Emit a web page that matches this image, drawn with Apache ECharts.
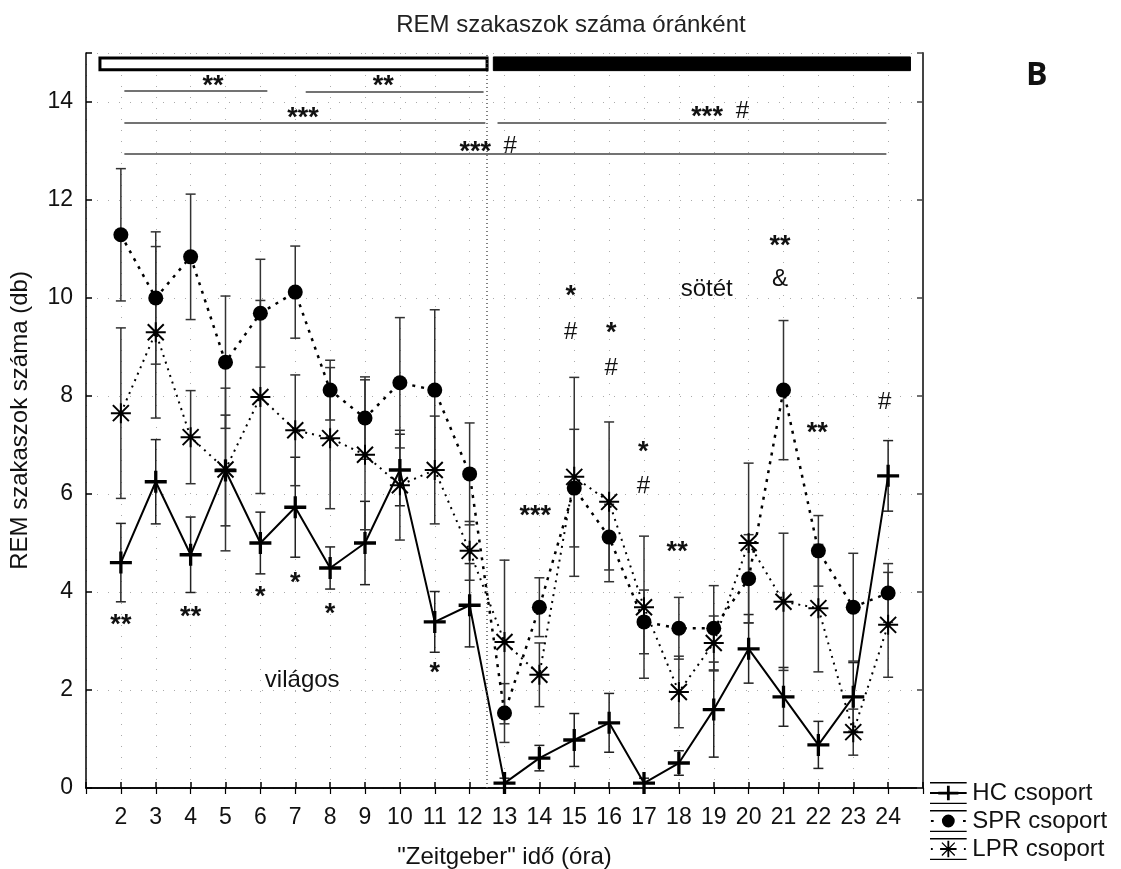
<!DOCTYPE html>
<html>
<head>
<meta charset="utf-8">
<script src="https://cdn.jsdelivr.net/npm/echarts@6/dist/echarts.min.js"></script>
<style>
html,body{margin:0;padding:0;background:#fff;}
#chart{width:1121px;height:869px;}
</style>
</head>
<body>
<div id="chart"></div>
<script>
// ---- Data ----
const hours = [2,3,4,5,6,7,8,9,10,11,12,13,14,15,16,17,18,19,20,21,22,23,24];
const hcMean  = [4.60,6.25,4.76,6.48,5.00,5.73,4.49,5.00,6.49,3.39,3.73,0.10,0.61,0.98,1.33,0.10,0.51,1.60,2.84,1.86,0.88,1.86,6.37];
const hcSem   = [0.80,0.86,0.77,1.13,0.63,1.02,0.43,0.85,0.73,0.62,0.85,0.10,0.26,0.54,0.60,0.10,0.25,0.97,0.70,0.60,0.48,0.70,0.72];
const sprMean = [11.29,10.00,10.84,8.69,9.69,10.12,8.12,7.55,8.27,8.12,6.41,1.53,3.69,6.12,5.12,3.39,3.26,3.26,4.27,8.12,4.84,3.69,3.98];
const sprSem  = [1.35,1.35,1.28,1.35,1.10,0.94,0.61,0.84,1.33,1.64,1.04,0.60,0.60,1.20,0.67,0.65,0.63,0.87,0.90,1.42,0.72,1.10,0.60];
const lprMean = [7.65,9.30,7.16,6.50,7.98,7.30,7.14,6.80,6.18,6.49,4.84,2.98,2.31,6.35,5.84,3.69,1.96,2.96,5.00,3.80,3.67,1.14,3.33];
const lprSem  = [1.74,1.75,0.95,1.66,1.97,1.13,1.44,1.53,1.12,1.10,0.60,1.67,0.65,2.03,1.63,1.45,0.73,0.55,1.63,1.40,1.30,0.47,1.07];
const yTicks = [0,2,4,6,8,10,12,14];
const seriesNames = ['HC csoport','SPR csoport','LPR csoport'];

// significance brackets [xStart, xEnd, y]
const brackets = [[2.1,6.2,14.22],[7.3,12.4,14.2],[2.1,12.45,13.57],[12.8,23.95,13.57],[2.1,23.95,12.94]];
// annotation texts [x, y, text]
const starNotes = [
  [4.64,14.43,'**'],[9.52,14.43,'**'],[7.22,13.78,'***'],[12.16,13.1,'***'],[18.81,13.8,'***'],
  [2,3.43,'**'],[4,3.6,'**'],[6,4.0,'*'],[7,4.29,'*'],[8,3.67,'*'],[11,2.45,'*'],
  [14.9,10.16,'*'],[16.06,9.39,'*'],[16.98,6.96,'*'],[13.88,5.67,'***'],[17.95,4.92,'**'],
  [20.9,11.18,'**'],[21.97,7.35,'**']
];
const otherNotes = [
  [13.16,13.1,'#'],[19.82,13.8,'#'],[14.9,9.3,'#'],[16.06,8.57,'#'],[16.98,6.16,'#'],[23.9,7.86,'#'],
  [20.9,10.37,'&'],[7.2,2.2,'világos'],[18.8,10.18,'sötét']
];
// light / dark phase bars [xStart, xEnd, yLow, yHigh]
const lightBar = [1.4,12.5,14.66,14.9];
const darkBar = [12.68,24.64,14.64,14.92];
const phaseBoundary = 12.5;

const FONT = '"Liberation Sans", Arial, sans-serif';

function pairs(mean){ return hours.map((h,i)=>[h,mean[i]]); }
function errs(mean,sem){ return hours.map((h,i)=>[h,mean[i]-sem[i],mean[i]+sem[i]]); }

const plusPath = 'path://M0,8.5H20V11.5H0Z M8.5,0H11.5V20H8.5Z';
const starPath = 'path://M9,0H11V20H9Z M0,9H20V11H0Z M2.7,1.3L18.7,17.3L17.3,18.7L1.3,2.7Z M17.3,1.3L18.7,2.7L2.7,18.7L1.3,17.3Z';

const legHC = 'path://M0,0H40V1.5H0Z M0,22.5H40V24H0Z M0,11H40V13H0Z M18.5,4H21.5V20H18.5Z M9,10.5H31V13.5H9Z';
const legSPR = 'path://M0,0H40V1.5H0Z M0,22.5H40V24H0Z M1,11H4V13H1Z M36,11H39V13H36Z M20,5A7,7 0 1,1 19.99,5Z';
const legLPR = 'path://M0,0H40V1.5H0Z M0,22.5H40V24H0Z M1,11H3V13H1Z M37,11H39V13H37Z M19,3H21V21H19Z M11,11H29V13H11Z M13.5,4.5L27.5,18.5L26.5,19.5L12.5,5.5Z M26.5,4.5L27.5,5.5L13.5,19.5L12.5,18.5Z';

function errorSeries(name, data, color){
  return {
    type:'custom', name: name+'_err', data: data, z: 2, silent:true,
    renderItem: function(params, api){
      const x = api.value(0);
      const lo = api.coord([x, api.value(1)]);
      const hi = api.coord([x, api.value(2)]);
      const w = 5;
      const st = {stroke: color, lineWidth: 1.5};
      return {type:'group', children:[
        {type:'line', shape:{x1:lo[0],y1:lo[1],x2:hi[0],y2:hi[1]}, style:st},
        {type:'line', shape:{x1:lo[0]-w,y1:lo[1],x2:lo[0]+w,y2:lo[1]}, style:st},
        {type:'line', shape:{x1:hi[0]-w,y1:hi[1],x2:hi[0]+w,y2:hi[1]}, style:st}
      ]};
    }
  };
}

function textSeries(name, data, font, dy){
  return {
    type:'custom', name:name, data:data, z:6, silent:true,
    renderItem: function(params, api){
      const p = api.coord([api.value(0), api.value(1)]);
      return {type:'text', x:p[0], y:p[1]+dy, style:{
        text: data[params.dataIndex][2], fill:'#111', font: font,
        align:'center', verticalAlign:'middle'}};
    }
  };
}

const chart = echarts.init(document.getElementById('chart'), null, {renderer:'canvas'});
const option = {
  backgroundColor:'#fff',
  animation:false,
  title:{text:'REM szakaszok száma óránként', left:566, top:8, textAlign:'center',
    textStyle:{fontFamily:FONT, fontSize:24, fontWeight:'normal', color:'#222'}},
  graphic:[{type:'text', left:1026, top:60, style:{text:'B', font:'bold 32px "Open Sans", sans-serif', fill:'#111'}}],
  legend:{
    orient:'vertical', left:930, top:781, height:86, itemWidth:38, itemGap:4, itemHeight:22, padding:0,
    textStyle:{fontFamily:FONT, fontSize:24, lineHeight:24, color:'#111', padding:[0,0,0,0]},
    data:[
      {name:seriesNames[0], icon:legHC, itemStyle:{color:'#000'}},
      {name:seriesNames[1], icon:legSPR, itemStyle:{color:'#000'}},
      {name:seriesNames[2], icon:legLPR, itemStyle:{color:'#000'}}
    ]
  },
  grid:{left:86, right:198, top:53, bottom:81, show:false, outerBoundsMode:'none'},
  xAxis:[{
    type:'value', min:1, max:25, interval:1, position:'bottom',
    name:'"Zeitgeber" idő (óra)', nameLocation:'middle', nameGap:57,
    nameTextStyle:{fontFamily:FONT, fontSize:24, color:'#111'},
    axisLine:{lineStyle:{color:'#000', width:1.5}},
    axisTick:{inside:true, length:6, lineStyle:{color:'#000', width:1.5}},
    axisLabel:{fontFamily:FONT, fontSize:23, color:'#111', margin:18,
      formatter:v=> (v>=2 && v<=24) ? String(v) : ''},
    splitLine:{show:true, lineStyle:{color:'#aaa', type:[1,10], width:1}}
  },{
    type:'value', min:1, max:25, interval:1, position:'top',
    axisLine:{lineStyle:{color:'#000', width:1.5}},
    axisTick:{inside:true, length:6, lineStyle:{color:'#000', width:1.2}},
    axisLabel:{show:false}, splitLine:{show:false}
  }],
  yAxis:[{
    type:'value', min:0, max:15, interval:2, position:'left',
    name:'REM szakaszok száma (db)', nameLocation:'middle', nameGap:54,
    nameTextStyle:{fontFamily:FONT, fontSize:24, color:'#111'},
    axisLine:{show:true, lineStyle:{color:'#000', width:1.5}},
    axisTick:{inside:true, length:6, lineStyle:{color:'#000', width:1.5}},
    axisLabel:{fontFamily:FONT, fontSize:23, color:'#111', margin:13,
      formatter:v=> yTicks.indexOf(v)>=0 ? String(v) : ''},
    splitLine:{show:true, lineStyle:{color:'#aaa', type:[1,10], width:1}}
  },{
    type:'value', min:0, max:15, interval:2, position:'right',
    axisLine:{show:true, lineStyle:{color:'#444', width:2}},
    axisTick:{inside:true, length:6, lineStyle:{color:'#444', width:1.5}},
    axisLabel:{show:false}, splitLine:{show:false}
  }],
  series:[
    errorSeries('HC', errs(hcMean,hcSem), '#222'),
    errorSeries('SPR', errs(sprMean,sprSem), '#333'),
    errorSeries('LPR', errs(lprMean,lprSem), '#333'),
    {
      type:'line', name:seriesNames[0], data:pairs(hcMean), z:4,
      symbol:plusPath, symbolSize:[22,22], showAllSymbol:true,
      lineStyle:{color:'#000', width:2}, itemStyle:{color:'#000'},
      markLine:{silent:true, symbol:'none', label:{show:false},
        lineStyle:{color:'#444', width:1.5, type:'solid'},
        data: brackets.map(b=>[{coord:[b[0],b[2]]},{coord:[b[1],b[2]]}])
          .concat([[{coord:[phaseBoundary,0]},{coord:[phaseBoundary,15], lineStyle:{type:[1,3], color:'#555', width:1.5}}]])
      },
      markArea:{silent:true, data:[
        [{coord:[lightBar[0],lightBar[3]], itemStyle:{color:'#fff', borderColor:'#000', borderWidth:3}},{coord:[lightBar[1],lightBar[2]]}],
        [{coord:[darkBar[0],darkBar[3]], itemStyle:{color:'#000', borderColor:'#000', borderWidth:1}},{coord:[darkBar[1],darkBar[2]]}]
      ]}
    },
    {
      type:'line', name:seriesNames[1], data:pairs(sprMean), z:4,
      symbol:'circle', symbolSize:15, showAllSymbol:true,
      lineStyle:{color:'#000', width:2.5, type:[3,6]}, itemStyle:{color:'#000'}
    },
    {
      type:'line', name:seriesNames[2], data:pairs(lprMean), z:4,
      symbol:starPath, symbolSize:[20,20], showAllSymbol:true,
      lineStyle:{color:'#000', width:2, type:[2,5]}, itemStyle:{color:'#000'}
    },
    textSeries('stars', starNotes, 'bold 27px '+FONT, 6),
    textSeries('notes', otherNotes, '24px '+FONT, 0)
  ]
};
chart.setOption(option);
</script>
</body>
</html>
